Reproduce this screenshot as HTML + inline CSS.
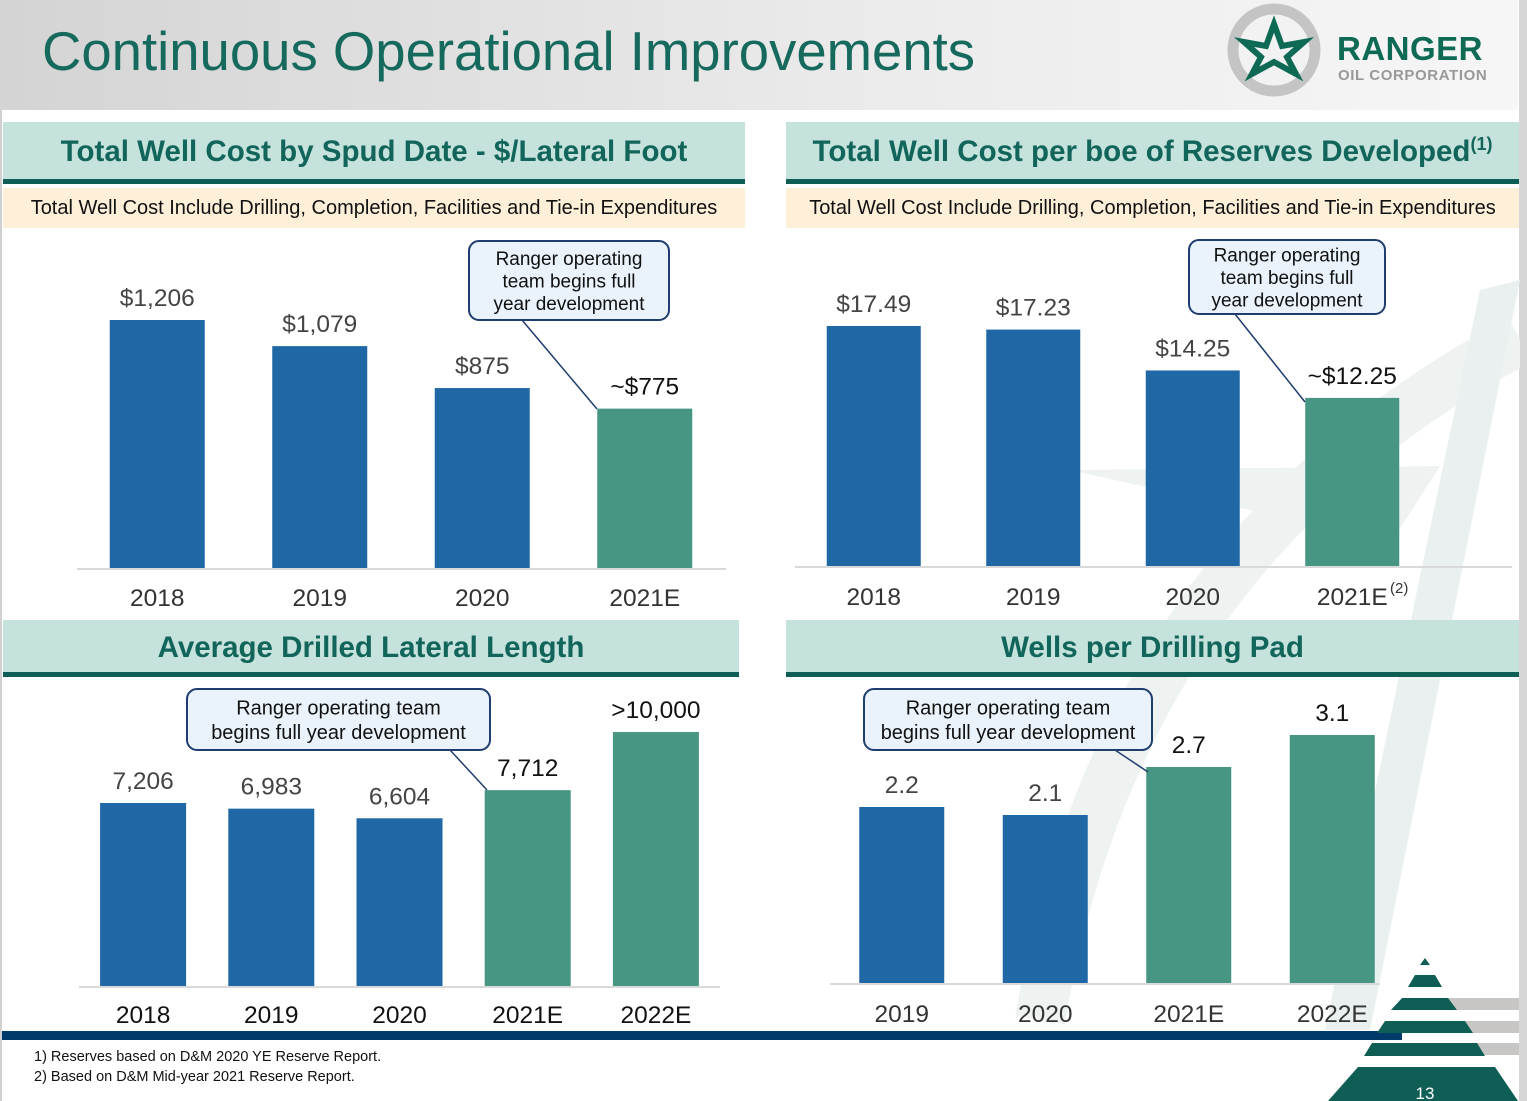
<!DOCTYPE html>
<html><head><meta charset="utf-8">
<style>
body{margin:0;width:1527px;height:1101px;overflow:hidden;background:#fff;font-family:"Liberation Sans",sans-serif;position:relative}
.abs{position:absolute}
.hdrband{position:absolute;background:#c6e2dc;border-bottom:5px solid #0f5e56;color:#11655a;font-weight:bold;font-size:29.5px;text-align:center;box-sizing:border-box;white-space:nowrap}
.subband{position:absolute;background:#fdefd8;font-size:20px;color:#111;text-align:center;line-height:40px;height:40px;white-space:nowrap}
svg text{font-family:"Liberation Sans",sans-serif}
</style></head><body>
<div class="abs" style="left:0;top:0;width:1518px;height:110px;background:linear-gradient(90deg,#d4d4d4,#ececec 60%,#f6f6f6)"></div>
<div class="abs" style="left:0;top:110px;width:2px;height:991px;background:#d0d0d0"></div>
<div class="abs" style="left:1519px;top:0;width:8px;height:1101px;background:#d6d6d6"></div>
<div class="abs" style="left:42px;top:20px;font-size:54.5px;color:#16695d;white-space:nowrap">Continuous Operational Improvements</div>
<svg class="abs" style="left:1226px;top:2px" width="100" height="96">
<circle cx="48" cy="48" r="41" fill="none" stroke="#c4c4c4" stroke-width="11"/>
<polygon points="48,22 56,44 78,40 61,55 70,72 48,60 26,72 35,55 18,40 40,44" fill="none" stroke="#0f6a55" stroke-width="6" stroke-linejoin="miter"/>
</svg>
<div class="abs" style="left:1337px;top:30px;font-size:33px;font-weight:bold;color:#0f6a55;letter-spacing:0.5px">RANGER</div>
<div class="abs" style="left:1338px;top:67px;font-size:15px;font-weight:bold;color:#999;letter-spacing:0.6px">OIL CORPORATION</div>

<svg class="abs" style="left:780px;top:230px" width="740" height="800">
<path d="M260,790 Q340,320 740,110" fill="none" stroke="#eef3f2" stroke-width="50"/>
<polygon points="700,60 740,50 590,800 545,800" fill="#e9f0ef"/>
<polygon points="290,240 660,236 600,330 560,300" fill="#eef3f2"/>
</svg>

<div class="hdrband" style="left:3px;top:122px;width:742px;height:62px;line-height:60px">Total Well Cost by Spud Date - $/Lateral Foot</div>
<div class="subband" style="left:3px;top:188px;width:742px">Total Well Cost Include Drilling, Completion, Facilities and Tie-in Expenditures</div>
<div class="hdrband" style="left:786px;top:122px;width:733px;height:62px;line-height:60px">Total Well Cost per boe of Reserves Developed<span style="font-size:18px;position:relative;top:-11px">(1)</span></div>
<div class="subband" style="left:786px;top:188px;width:733px">Total Well Cost Include Drilling, Completion, Facilities and Tie-in Expenditures</div>
<div class="hdrband" style="left:3px;top:620px;width:736px;height:57px;line-height:56px">Average Drilled Lateral Length</div>
<div class="hdrband" style="left:786px;top:620px;width:733px;height:57px;line-height:56px">Wells per Drilling Pad</div>

<svg class="abs" id="charts" style="left:0;top:0" width="1527" height="1101"></svg>

<div class="abs" style="left:2px;top:1031px;width:1400px;height:9px;background:#003a6b"></div>
<div class="abs" style="left:34px;top:1049px;font-size:14.5px;color:#111">1) Reserves based on D&amp;M 2020 YE Reserve Report.</div>
<div class="abs" style="left:34px;top:1069px;font-size:14.5px;color:#111">2) Based on D&amp;M Mid-year 2021 Reserve Report.</div>
<svg class="abs" style="left:1320px;top:950px" width="207" height="151">
<rect x="110" y="48" width="89" height="12" fill="#c8c6c4"/>
<rect x="110" y="71" width="89" height="12" fill="#c8c6c4"/>
<rect x="110" y="93" width="89" height="12" fill="#c8c6c4"/>
<polygon points="105,8 110,15 100,15" fill="#0f5e56"/>
<polygon points="95,25 115,25 122,37 88,37" fill="#0f5e56"/>
<polygon points="82,48 128,48 137,60 71,60" fill="#0f5e56"/>
<polygon points="65,71 145,71 153,83 57,83" fill="#0f5e56"/>
<polygon points="52,93 157,93 165,106 44,106" fill="#0f5e56"/>
<polygon points="38,117 175,117 198,151 8,151" fill="#0f5e56"/>
<text x="105" y="149" text-anchor="middle" font-size="17" fill="#fff">13</text>
</svg>

<script>
// Chart 1: Total Well Cost $/Lateral Foot
const c1Categories = ["2018","2019","2020","2021E"];
const c1Values = [1206,1079,875,775];
const c1Labels = ["$1,206","$1,079","$875","~$775"];
// Chart 2: Total Well Cost per boe
const c2Categories = ["2018","2019","2020","2021E"];
const c2Values = [17.49,17.23,14.25,12.25];
const c2Labels = ["$17.49","$17.23","$14.25","~$12.25"];
// Chart 3: Average Drilled Lateral Length
const c3Categories = ["2018","2019","2020","2021E","2022E"];
const c3Values = [7206,6983,6604,7712,10000];
const c3Labels = ["7,206","6,983","6,604","7,712",">10,000"];
// Chart 4: Wells per Drilling Pad
const c4Categories = ["2019","2020","2021E","2022E"];
const c4Values = [2.2,2.1,2.7,3.1];
const c4Labels = ["2.2","2.1","2.7","3.1"];

const NS="http://www.w3.org/2000/svg";
const svg=document.getElementById('charts');
function mk(tag,attrs,parent){const e=document.createElementNS(NS,tag);for(const k in attrs)e.setAttribute(k,attrs[k]);(parent||svg).appendChild(e);return e;}

function drawChart(id,cats,vals,labels,cfg){
  const g=mk('g',{});
  
  
  const ax=mk('line',{x1:cfg.axisX0,x2:cfg.axisX1,y1:cfg.base+1,y2:cfg.base+1,stroke:'#d9d9d9','stroke-width':2},g);
  
  
  const n=cats.length;
  const step=(cfg.x1-cfg.x0)/n;
  const yOf=v=>cfg.base-v*cfg.scale;
  for(let i=0;i<n;i++){
    const cx=cfg.x0+step*(i+0.5);
    const y=yOf(vals[i]);
    const col=cfg.green.includes(i)?'#479583':'#2067a5';
    const r=mk('rect',{x:cx-cfg.bw/2,y:y,width:cfg.bw,height:cfg.base-y,fill:col},g);
    
    
    const vl=mk('text',{x:cx,y:y-cfg.lblGap,'text-anchor':'middle','font-size':24.5,fill:cfg.green.includes(i)?'#111':'#444'},g);
    vl.textContent=labels[i];
    
    
    const cl=mk('text',{x:cx,y:cfg.catY,'text-anchor':'middle','font-size':24.5,fill:cfg.catColor},g);
    cl.textContent=cats[i];
    
    
  }
}
drawChart('chart-cost-per-foot',c1Categories,c1Values,c1Labels,{x0:76,x1:726,bw:95,base:568,scale:248/1206,axisX0:77,axisX1:726,green:[3],lblGap:14,catY:606,catColor:'#333'});
drawChart('chart-cost-per-boe',c2Categories,c2Values,c2Labels,{x0:794,x1:1432,bw:94,base:566,scale:240/17.49,axisX0:795,axisX1:1512,green:[3],lblGap:14,catY:605,catColor:'#333'});
drawChart('chart-lateral-length',c3Categories,c3Values,c3Labels,{x0:79,x1:720,bw:86,base:986,scale:183/7206,axisX0:79,axisX1:720,green:[3,4],lblGap:14,catY:1023,catColor:'#111'});
drawChart('chart-wells-per-pad',c4Categories,c4Values,c4Labels,{x0:830,x1:1404,bw:85,base:983,scale:80,axisX0:830,axisX1:1380,green:[2,3],lblGap:14,catY:1022,catColor:'#333'});

const sup=mk('text',{x:1390,y:593,'font-size':15,fill:'#333'});
sup.textContent='(2)';



function callout(name,x,y,w,h,lines,lx1,ly1,lx2,ly2){
  const g=mk('g',{});
  
  
  mk('line',{x1:lx1,y1:ly1,x2:lx2,y2:ly2,stroke:'#1f3d6e','stroke-width':1.5},g);
  mk('rect',{x:x,y:y,width:w,height:h,rx:10,fill:'#eaf2fb',stroke:'#1f3d6e','stroke-width':2},g);
  const lh=lines.length===3?22.5:24.5;
  const top=y+h/2-lh*(lines.length-1)/2+7;
  lines.forEach((t,i)=>{const tx=mk('text',{x:x+w/2,y:top+i*lh,'text-anchor':'middle','font-size':lines.length===3?19:20,fill:'#111'},g);tx.textContent=t;});
}
callout('callout-panel1',469,241,200,79,['Ranger operating','team begins full','year development'],522,320,597,409);
callout('callout-panel2',1189,240,196,74,['Ranger operating','team begins full','year development'],1235,314,1305,402);
callout('callout-panel3',187,689,303,61,['Ranger operating team','begins full year development'],450,750,487,790);
callout('callout-panel4',864,689,288,61,['Ranger operating team','begins full year development'],1115,750,1148,772);
</script>
</body></html>
